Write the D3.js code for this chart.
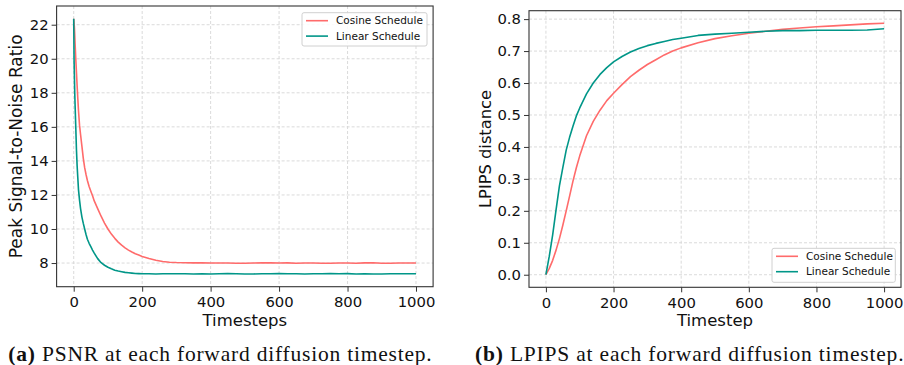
<!DOCTYPE html>
<html>
<head>
<meta charset="utf-8">
<script src="https://cdn.jsdelivr.net/npm/d3@7/dist/d3.min.js"></script>
<style>
  html, body { margin: 0; padding: 0; background: #fff; }
  svg { display: block; }
</style>
</head>
<body>
<svg id="chart" width="904" height="365"></svg>
<script>
// ---------------- DATA ----------------
const seriesNames = ["Cosine Schedule", "Linear Schedule"];
const xTicks = [0, 200, 400, 600, 800, 1000];
const psnrTicks = [8, 10, 12, 14, 16, 18, 20, 22];
const lpipsTicks = [0.0, 0.1, 0.2, 0.3, 0.4, 0.5, 0.6, 0.7, 0.8];

const psnrT = [0,1,2,3,4,5,6,8,10,12,14,17,20,24,28,32,36,40,45,50,55,60,70,80,90,100,110,120,130,140,150,160,170,180,190,200,220,240,260,280,300,
  325,350,375,400,425,450,475,500,525,550,575,600,625,650,675,700,725,750,775,800,825,850,875,900,925,950,975,1000];
const psnrCosine = [22.35,22.1,21.85,21.4,20.9,20.45,20.0,19.2,18.4,17.65,16.95,16.1,15.55,14.85,14.15,13.6,13.2,12.85,12.5,12.22,11.95,11.65,11.2,10.75,10.35,10.0,9.7,9.45,9.23,9.05,8.89,8.76,8.65,8.55,8.47,8.39,8.27,8.16,8.09,8.05,8.03,
  8.02,8.01,8.01,8.0,8.0,8.0,7.99,7.99,8.0,8.02,8.01,8.0,8.01,7.99,8.0,8.0,7.99,7.99,8.0,8.0,7.99,8.01,8.02,7.99,7.99,8.0,8.0,8.0];
const psnrLinear = [22.35,20.0,19.0,18.0,17.3,16.65,16.0,14.65,13.7,13.0,12.3,11.7,11.2,10.7,10.33,10.0,9.68,9.4,9.16,8.96,8.76,8.58,8.26,8.02,7.87,7.75,7.66,7.58,7.53,7.49,7.45,7.43,7.41,7.39,7.38,7.37,7.37,7.36,7.37,7.37,7.37,
  7.37,7.36,7.37,7.36,7.37,7.38,7.37,7.36,7.36,7.37,7.37,7.38,7.37,7.37,7.36,7.37,7.37,7.38,7.37,7.38,7.36,7.37,7.36,7.36,7.37,7.37,7.37,7.37];

const lpipsT = [0,10,20,30,40,50,60,70,80,90,100,120,140,160,180,200,225,250,275,300,325,350,375,400,450,500,550,600,650,700,750,800,850,900,950,1000];
const lpipsCosine = [0,0.02,0.045,0.077,0.113,0.155,0.2,0.246,0.293,0.335,0.372,0.435,0.48,0.515,0.545,0.568,0.595,0.62,0.64,0.658,0.673,0.688,0.7,0.71,0.726,0.739,0.748,0.756,0.762,0.768,0.772,0.776,0.779,0.782,0.785,0.787];
const lpipsLinear = [0,0.058,0.125,0.203,0.278,0.335,0.39,0.43,0.465,0.497,0.522,0.566,0.6,0.627,0.648,0.666,0.683,0.697,0.708,0.717,0.724,0.73,0.736,0.74,0.749,0.753,0.756,0.759,0.762,0.764,0.764,0.765,0.765,0.765,0.766,0.77];

// ---------------- STYLE / LAYOUT ----------------
const colors = ["#ff6b6b", "#009688"];
const svg = d3.select("#chart");
const FONT = "'DejaVu Sans', sans-serif";

function panel(cfg) {
  const g = svg.append("g");
  const all = cfg.series.flat();
  const [mn, mx] = d3.extent(all);
  const m = (mx - mn) * 0.05;
  const x = d3.scaleLinear().domain([-50, 1050]).range([cfg.x0, cfg.x1]);
  const y = d3.scaleLinear().domain([mn - m, mx + m]).range([cfg.y1, cfg.y0]);

  // grid
  g.append("g").selectAll("line").data(xTicks).join("line")
    .attr("x1", d => x(d)).attr("x2", d => x(d))
    .attr("y1", cfg.y0).attr("y2", cfg.y1)
    .attr("stroke", "#d6d6d6").attr("stroke-width", 0.9).attr("stroke-dasharray", "3,2");
  g.append("g").selectAll("line").data(cfg.yTicks).join("line")
    .attr("x1", cfg.x0).attr("x2", cfg.x1)
    .attr("y1", d => y(d)).attr("y2", d => y(d))
    .attr("stroke", "#d6d6d6").attr("stroke-width", 0.9).attr("stroke-dasharray", "3,2");

  // lines
  const line = d3.line().x(d => x(d[0])).y(d => y(d[1]));
  cfg.series.forEach((s, i) => {
    g.append("path").datum(cfg.t.map((t, k) => [t, s[k]]))
      .attr("d", line).attr("fill", "none")
      .attr("stroke", colors[i]).attr("stroke-width", 1.6)
      .attr("stroke-linejoin", "round");
  });

  // axes
  const xAxis = d3.axisBottom(x).tickValues(xTicks).tickSize(5).tickPadding(5).tickFormat(d3.format("d"));
  const yAxis = d3.axisLeft(y).tickValues(cfg.yTicks).tickSize(5).tickPadding(3).tickFormat(cfg.fmt);
  const gx = g.append("g").attr("transform", `translate(0,${cfg.y1})`).call(xAxis);
  const gy = g.append("g").attr("transform", `translate(${cfg.x0},0)`).call(yAxis);
  [gx, gy].forEach(a => {
    a.select(".domain").remove();
    a.selectAll(".tick line").attr("stroke", "#333").attr("stroke-width", 1);
    a.selectAll(".tick text").attr("fill", "#111").style("font-family", FONT).style("font-size", "14.8px");
  });

  // frame
  g.append("rect").attr("x", cfg.x0).attr("y", cfg.y0)
    .attr("width", cfg.x1 - cfg.x0).attr("height", cfg.y1 - cfg.y0)
    .attr("fill", "none").attr("stroke", "#333").attr("stroke-width", 1.1);

  // axis labels
  g.append("text").attr("x", (cfg.x0 + cfg.x1) / 2).attr("y", cfg.xlabY)
    .attr("text-anchor", "middle").style("font-family", FONT).style("font-size", "16.5px")
    .attr("fill", "#111").text(cfg.xlabel);
  g.append("text").attr("transform", `translate(${cfg.ylabX},${(cfg.y0 + cfg.y1) / 2}) rotate(-90)`)
    .attr("text-anchor", "middle").style("font-family", FONT).style("font-size", cfg.ylabSize)
    .attr("fill", "#111").text(cfg.ylabel);

  // legend
  const L = cfg.legend;
  const lg = g.append("g");
  lg.append("rect").attr("x", L.x).attr("y", L.y).attr("width", L.w).attr("height", L.h)
    .attr("rx", 2).attr("fill", "#fff").attr("fill-opacity", 0.85)
    .attr("stroke", "#d0d0d0").attr("stroke-width", 1);
  seriesNames.forEach((n, i) => {
    const yy = L.y + 8 + i * 15.4;
    lg.append("line").attr("x1", L.x + 4).attr("x2", L.x + 26).attr("y1", yy).attr("y2", yy)
      .attr("stroke", colors[i]).attr("stroke-width", 1.6);
    lg.append("text").attr("x", L.x + 34).attr("y", yy).attr("dy", "0.36em")
      .style("font-family", FONT).style("font-size", "10.5px").attr("fill", "#111").text(n);
  });

  // caption
  const cap = svg.append("text").attr("x", cfg.capX).attr("y", 360.5)
    .attr("textLength", cfg.capW).attr("lengthAdjust", "spacing")
    .style("font-family", "'Liberation Serif', 'DejaVu Serif', serif").style("font-size", "21.5px").attr("fill", "#111");
  cap.append("tspan").style("font-weight", "bold").text(cfg.capBold);
  cap.append("tspan").text(cfg.capText);
}

panel({
  x0: 56.6, x1: 433.1, y0: 6, y1: 286.7,
  t: psnrT, series: [psnrCosine, psnrLinear],
  yTicks: psnrTicks, fmt: d3.format("d"),
  xlabel: "Timesteps", xlabY: 325.5,
  ylabel: "Peak Signal-to-Noise Ratio", ylabX: 22.3, ylabSize: "17px",
  legend: { x: 302, y: 12.7, w: 125, h: 33.3 },
  capX: 8.3, capW: 423.4, capBold: "(a)", capText: " PSNR at each forward diffusion timestep."
});
panel({
  x0: 529, x1: 901, y0: 10.7, y1: 287.3,
  t: lpipsT, series: [lpipsCosine, lpipsLinear],
  yTicks: lpipsTicks, fmt: d3.format(".1f"),
  xlabel: "Timestep", xlabY: 326,
  ylabel: "LPIPS distance", ylabX: 490.6, ylabSize: "16.3px",
  legend: { x: 772, y: 248.3, w: 123.3, h: 34 },
  capX: 475, capW: 428.5, capBold: "(b)", capText: " LPIPS at each forward diffusion timestep."
});
</script>
</body>
</html>
